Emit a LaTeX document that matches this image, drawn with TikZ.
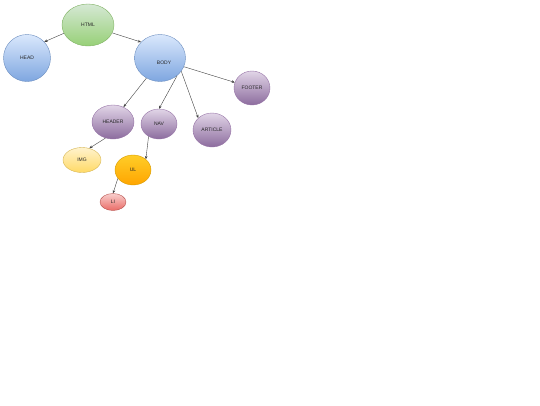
\documentclass[tikz,border=0pt]{standalone}
\usepackage{fontspec}
\setmainfont{Liberation Sans}
\usetikzlibrary{shapes.geometric,arrows.meta}
\definecolor{gT}{HTML}{D5E8D4}\definecolor{gB}{HTML}{97D077}\definecolor{gS}{HTML}{82B366}
\definecolor{bT}{HTML}{DAE8FC}\definecolor{bB}{HTML}{7EA6E0}\definecolor{bS}{HTML}{6C8EBF}
\definecolor{pT}{HTML}{E1D5E7}\definecolor{pB}{HTML}{8C6C9E}\definecolor{pS}{HTML}{9673A6}
\definecolor{yT}{HTML}{FFF2CC}\definecolor{yB}{HTML}{FFD966}\definecolor{yS}{HTML}{D6B656}
\definecolor{oT}{HTML}{FFCD28}\definecolor{oB}{HTML}{FFA500}\definecolor{oS}{HTML}{D79B00}
\definecolor{rT}{HTML}{F8CECC}\definecolor{rB}{HTML}{EA6B66}\definecolor{rS}{HTML}{B85450}
\tikzset{
  el/.style={ellipse, inner sep=0pt, line width=0.4pt, font=\fontsize{5}{6}\selectfont, text=black!85},
  grn/.style={el, top color=gT, bottom color=gB, draw=gS},
  blu/.style={el, top color=bT, bottom color=bB, draw=bS},
  pur/.style={el, top color=pT, bottom color=pB, draw=pS},
  yel/.style={el, top color=yT, bottom color=yB, draw=yS},
  org/.style={el, top color=oT, bottom color=oB, draw=oS},
  red/.style={el, top color=rT, bottom color=rB, draw=rS},
  conn/.style={draw=black!75, line width=0.4pt, -{Stealth[length=3.2pt,width=2.6pt]}}
}
\begin{document}
\begin{tikzpicture}[x=1pt,y=-1pt]
\useasboundingbox (0,0) rectangle (540,405);
\node[grn, minimum width=52pt, minimum height=42pt] (html) at (88,25) {HTML};
\node[blu, minimum width=47pt, minimum height=47pt] (head) at (27,58) {HEAD};
\node[blu, minimum width=51pt, minimum height=47pt,
      label={[font=\fontsize{5}{6}\selectfont, text=black!85, shift={(4pt,-5pt)}]center:BODY}] (body) at (160,58) {};
\node[pur, minimum width=36pt, minimum height=34pt] (footer) at (252,88) {FOOTER};
\node[pur, minimum width=42pt, minimum height=34pt] (header) at (113,122) {HEADER};
\node[pur, minimum width=36pt, minimum height=30pt] (nav) at (159,124) {NAV};
\node[pur, minimum width=38pt, minimum height=34pt] (article) at (212,130) {ARTICLE};
\node[yel, minimum width=38pt, minimum height=25pt] (img) at (82,160) {IMG};
\node[org, minimum width=36pt, minimum height=30pt] (ul) at (133,170) {UL};
\node[red, minimum width=26pt, minimum height=17pt] (li) at (113,202) {LI};
\draw[conn] (html.199) -- (head.43);
\draw[conn] (html.-18) -- (body.140);
\draw[conn] (body.236) -- (header.55);
\draw[conn] (body.-46) -- (nav.90);
\draw[conn] (body.-32) -- (article.139);
\draw[conn] (body.-20) -- (footer.162);
\draw[conn] (header.245) -- (img.58);
\draw[conn] (nav.230) -- (ul.40);
\draw[conn] (ul.209) -- (li.90);
\end{tikzpicture}
\end{document}
